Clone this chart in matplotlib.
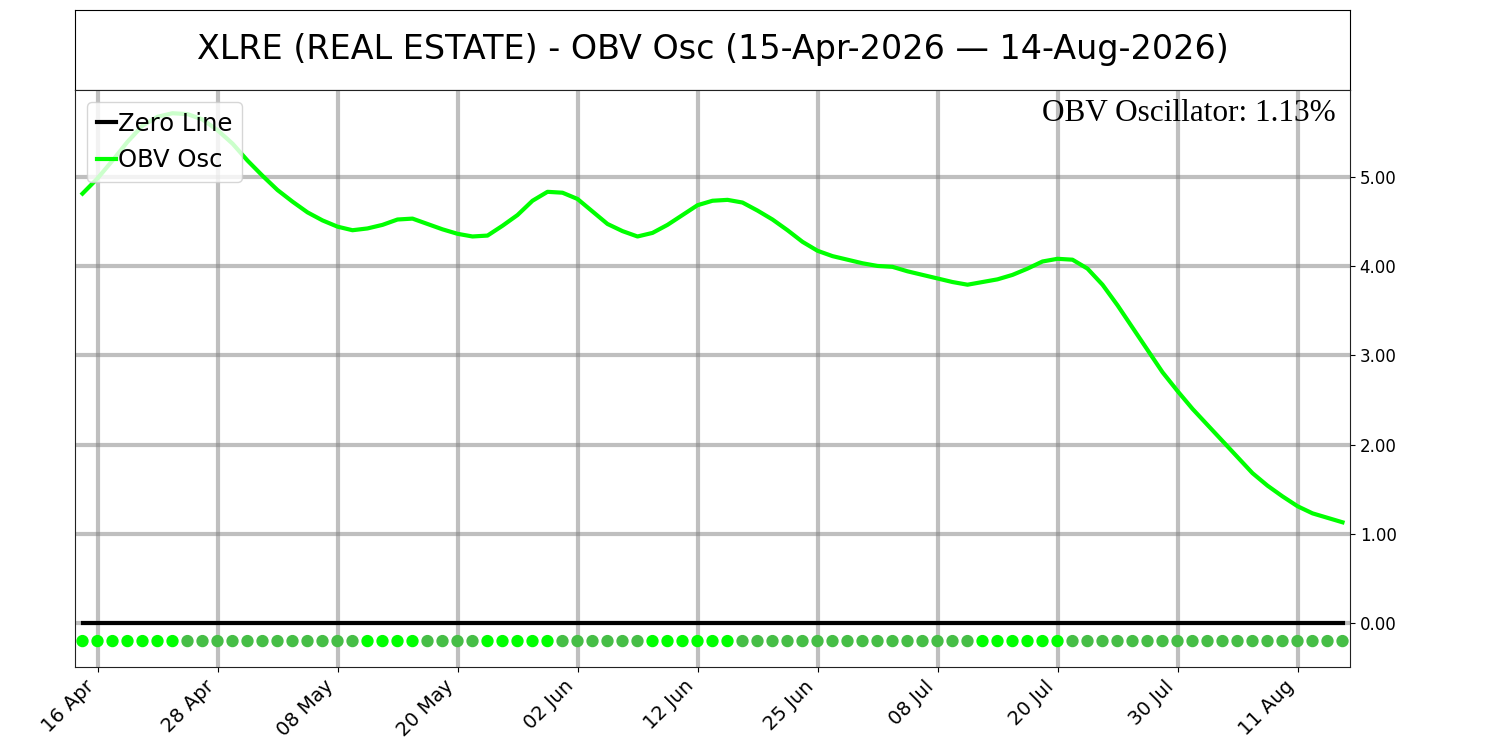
import numpy as np
import pandas as pd
import matplotlib
matplotlib.use("Agg")
import matplotlib.pyplot as plt

# XLRE OBV oscillator, trading days 15-Apr-2026 .. 14-Aug-2026
dates = pd.to_datetime([
    "2026-04-15", "2026-04-16", "2026-04-17", "2026-04-20", "2026-04-21", "2026-04-22", "2026-04-23",
    "2026-04-24", "2026-04-27", "2026-04-28", "2026-04-29", "2026-04-30", "2026-05-01", "2026-05-04",
    "2026-05-05", "2026-05-06", "2026-05-07", "2026-05-08", "2026-05-11", "2026-05-12", "2026-05-13",
    "2026-05-14", "2026-05-15", "2026-05-18", "2026-05-19", "2026-05-20", "2026-05-21", "2026-05-22",
    "2026-05-26", "2026-05-27", "2026-05-28", "2026-05-29", "2026-06-01", "2026-06-02", "2026-06-03",
    "2026-06-04", "2026-06-05", "2026-06-08", "2026-06-09", "2026-06-10", "2026-06-11", "2026-06-12",
    "2026-06-15", "2026-06-16", "2026-06-17", "2026-06-18", "2026-06-22", "2026-06-23", "2026-06-24",
    "2026-06-25", "2026-06-26", "2026-06-29", "2026-06-30", "2026-07-01", "2026-07-02", "2026-07-06",
    "2026-07-07", "2026-07-08", "2026-07-09", "2026-07-10", "2026-07-13", "2026-07-14", "2026-07-15",
    "2026-07-16", "2026-07-17", "2026-07-20", "2026-07-21", "2026-07-22", "2026-07-23", "2026-07-24",
    "2026-07-27", "2026-07-28", "2026-07-29", "2026-07-30", "2026-07-31", "2026-08-03", "2026-08-04",
    "2026-08-05", "2026-08-06", "2026-08-07", "2026-08-10", "2026-08-11", "2026-08-12", "2026-08-13",
    "2026-08-14",
])

obv_osc = [
    4.81, 4.98, 5.18, 5.39, 5.57, 5.67, 5.71, 5.70, 5.64, 5.52,
    5.37, 5.18, 5.01, 4.85, 4.72, 4.60, 4.51, 4.44, 4.40, 4.42,
    4.46, 4.52, 4.53, 4.47, 4.41, 4.36, 4.33, 4.34, 4.45, 4.57,
    4.73, 4.83, 4.82, 4.75, 4.61, 4.47, 4.39, 4.33, 4.37, 4.46,
    4.57, 4.68, 4.73, 4.74, 4.71, 4.62, 4.52, 4.40, 4.27, 4.17,
    4.11, 4.07, 4.03, 4.00, 3.99, 3.94, 3.90, 3.86, 3.82, 3.79,
    3.82, 3.85, 3.90, 3.97, 4.05, 4.08, 4.07, 3.97, 3.79, 3.56,
    3.31, 3.06, 2.81, 2.60, 2.40, 2.22, 2.04, 1.86, 1.68, 1.54,
    1.42, 1.31, 1.23, 1.18, 1.13,
]

ticker = "XLRE"
sector = "REAL ESTATE"
tick_step = 8
marker_level = -0.2

osc = np.array(obv_osc)
x = np.arange(len(osc))
rising = np.diff(osc, prepend=osc[0]) >= 0
dot_colors = np.where(rising, "#00ff00", "#46be46")

fig = plt.figure(figsize=(15, 7.5), dpi=100)

# title box
ax_t = fig.add_axes([0.05, 0.88, 0.85, 0.1067])
ax_t.set_xticks([])
ax_t.set_yticks([])
title = f"{ticker} ({sector}) - OBV Osc ({dates[0]:%d-%b-%Y} \u2014 {dates[-1]:%d-%b-%Y})"
ax_t.text(0.5, 0.5, title, ha="center", va="center", fontsize=24, transform=ax_t.transAxes)

ax = fig.add_axes([0.05, 0.1107, 0.85, 0.7693])
ax.plot(x, np.zeros(len(x)), color="black", lw=3, label="Zero Line")
ax.plot(x, osc, color="#00ff00", lw=3, label="OBV Osc")
ax.scatter(x, np.full(len(x), marker_level), c=dot_colors, s=62, zorder=3)

ax.grid(True, color="gray", alpha=0.5, lw=3)
ax.set_axisbelow(True)
ax.set_xlim(-0.5, len(x) - 0.5)
ax.set_ylim(-0.49, 5.97)

ticks = x[1::tick_step]
ax.set_xticks(ticks)
ax.set_xticklabels([d.strftime("%d %b") for d in dates[ticks]], rotation=45, ha="right", fontsize=14)
ax.set_yticks([0, 1, 2, 3, 4, 5])
ax.set_yticklabels([f"{v:.2f}" for v in [0, 1, 2, 3, 4, 5]], fontsize=12)
ax.yaxis.tick_right()
for s in ax.spines.values():
    s.set_color("#222222")

ax.legend(loc="upper left", fontsize=17.5, handlelength=0.8, handletextpad=0.05,
          borderpad=0.4, labelspacing=0.5)
ax.text(0.989, 0.985, f"OBV Oscillator: {osc[-1]:.2f}%", transform=ax.transAxes,
        ha="right", va="top", fontsize=22.5, family="Liberation Serif")

fig.savefig("out.png", dpi=100)
